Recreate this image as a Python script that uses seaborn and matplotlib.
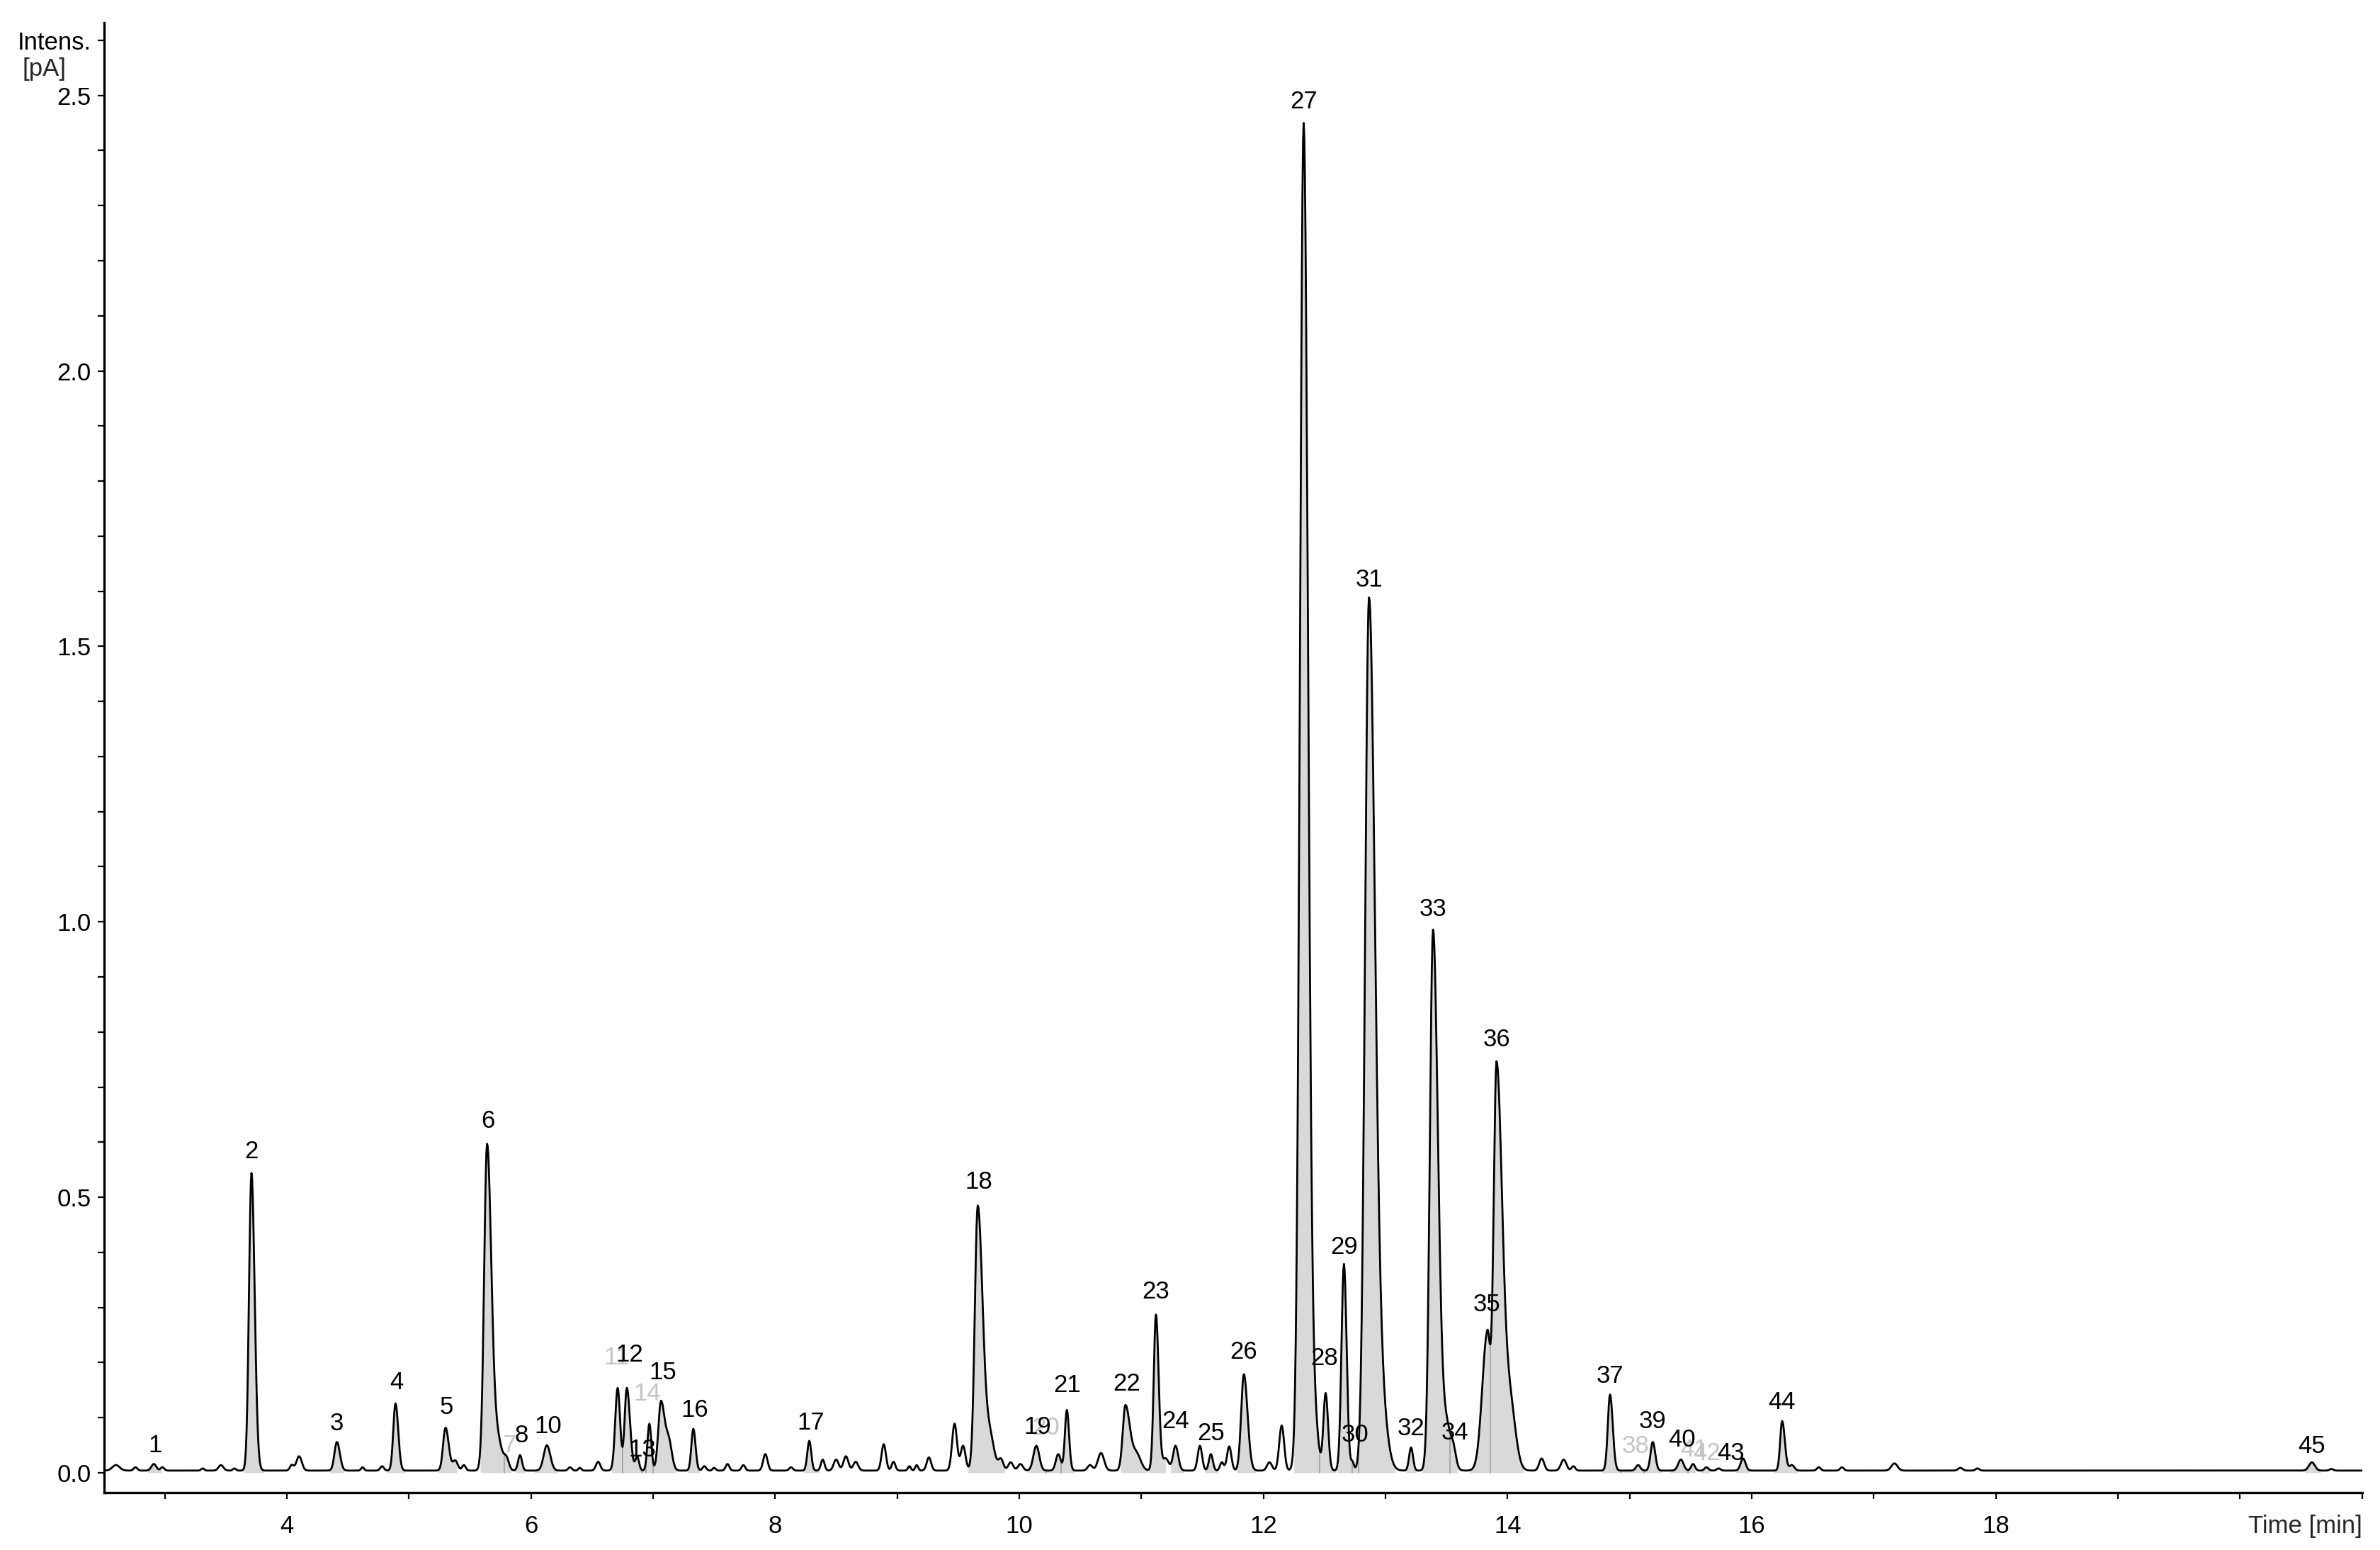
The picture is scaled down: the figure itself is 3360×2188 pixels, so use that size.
import numpy as np
import pandas as pd
import matplotlib
matplotlib.use("Agg")
import matplotlib.pyplot as plt
import matplotlib.transforms as mtransforms
import seaborn as sns

# ---------------- data ----------------
# labelled peaks: number, retention time [min], height above baseline [pA], left / right width (sigma, min)
peak_no = [1, 2, 3, 4, 5, 6, 7, 8, 10, 11, 12, 13, 14, 15, 16, 17, 18, 19, 20, 21,
           22, 23, 24, 25, 26, 27, 28, 29, 30, 31, 32, 33, 34, 35, 36, 37, 38, 39, 40,
           41, 42, 43, 44, 45]
peak_rt = [2.91, 3.71, 4.41, 4.89, 5.30, 5.64, 5.80, 5.91, 6.13, 6.71, 6.785, 6.87, 6.97, 7.065,
           7.33, 8.28, 9.66, 10.14, 10.32, 10.39, 10.87, 11.12, 11.28, 11.57, 11.84, 12.33,
           12.51, 12.66, 12.73, 12.865, 13.21, 13.39, 13.56, 13.835, 13.91, 14.84, 15.07,
           15.19, 15.42, 15.52, 15.63, 15.93, 16.25, 20.59]
peak_h = [0.012, 0.540, 0.052, 0.122, 0.078, 0.585, 0.018, 0.028, 0.046, 0.150, 0.150, 0.025,
          0.085, 0.125, 0.076, 0.054, 0.480, 0.045, 0.030, 0.110, 0.118, 0.283, 0.045, 0.030,
          0.175, 2.445, 0.140, 0.375, 0.015, 1.565, 0.042, 0.980, 0.022, 0.250, 0.735, 0.138,
          0.010, 0.052, 0.020, 0.012, 0.006, 0.022, 0.090, 0.015]
peak_sl = [0.020, 0.020, 0.020, 0.018, 0.020, 0.024, 0.020, 0.016, 0.026, 0.020, 0.018, 0.015,
           0.016, 0.022, 0.016, 0.016, 0.024, 0.024, 0.020, 0.016, 0.022, 0.018, 0.020, 0.016,
           0.022, 0.030, 0.018, 0.020, 0.012, 0.032, 0.016, 0.026, 0.020, 0.042, 0.024, 0.018,
           0.018, 0.018, 0.022, 0.016, 0.016, 0.020, 0.016, 0.024]
peak_sr = [0.020, 0.026, 0.024, 0.022, 0.026, 0.034, 0.020, 0.016, 0.028, 0.020, 0.026, 0.015,
           0.016, 0.030, 0.018, 0.016, 0.040, 0.024, 0.020, 0.018, 0.036, 0.022, 0.022, 0.016,
           0.030, 0.036, 0.020, 0.022, 0.012, 0.048, 0.016, 0.040, 0.020, 0.024, 0.046, 0.022,
           0.018, 0.020, 0.022, 0.016, 0.016, 0.020, 0.022, 0.024]

# unlabelled minor peaks / shoulders: retention time, height, width
minor_rt = [2.60, 2.76, 2.98, 3.31, 3.46, 3.57, 4.04, 4.10, 4.62, 4.78, 5.38, 5.45, 5.72,
            6.32, 6.40, 6.55, 7.13, 7.42, 7.50, 7.61, 7.74, 7.92, 8.13, 8.39, 8.50, 8.58,
            8.66, 8.89, 8.97, 9.10, 9.16, 9.26, 9.47, 9.54, 9.76, 9.85, 9.93, 10.01, 10.58,
            10.67, 10.96, 11.20, 11.48, 11.66, 11.72, 12.05, 12.15, 12.42, 12.96, 13.50,
            14.02, 14.28, 14.46, 14.54, 15.73, 16.33, 16.55, 16.74, 17.17, 17.71,
            17.85, 20.75]
minor_h = [0.010, 0.006, 0.006, 0.004, 0.010, 0.004, 0.010, 0.026, 0.006, 0.008, 0.018,
           0.010, 0.060, 0.006, 0.005, 0.016, 0.050, 0.008, 0.005, 0.012, 0.010, 0.030,
           0.006, 0.020, 0.020, 0.026, 0.016, 0.048, 0.016, 0.008, 0.010, 0.024, 0.085,
           0.045, 0.060, 0.020, 0.015, 0.012, 0.010, 0.032, 0.030, 0.022, 0.045, 0.015,
           0.044, 0.015, 0.082, 0.080, 0.120, 0.080, 0.120, 0.022, 0.020, 0.008,
           0.004, 0.010, 0.006, 0.006, 0.013, 0.005, 0.004, 0.003]
minor_s = [0.030, 0.015, 0.015, 0.012, 0.020, 0.012, 0.015, 0.022, 0.012, 0.015, 0.020,
           0.015, 0.040, 0.015, 0.012, 0.018, 0.025, 0.015, 0.012, 0.015, 0.015, 0.018,
           0.015, 0.015, 0.020, 0.020, 0.020, 0.018, 0.015, 0.012, 0.012, 0.018, 0.020,
           0.020, 0.035, 0.020, 0.020, 0.020, 0.020, 0.025, 0.035, 0.025, 0.018, 0.015,
           0.018, 0.020, 0.020, 0.030, 0.050, 0.040, 0.045, 0.020, 0.022, 0.015,
           0.015, 0.020, 0.015, 0.015, 0.025, 0.018, 0.015, 0.015]
baseline = 0.004

# integration windows (grey areas) for the labelled peaks
win_start = [2.86, 3.645, 4.35, 4.82, 5.24, 5.585, 5.78, 5.87, 6.03, 6.66, 6.75, 6.91, 6.94,
             7.00, 7.28, 8.23, 9.58, 10.07, 10.22, 10.34, 10.83, 11.06, 11.24, 11.52, 11.78,
             12.25, 12.46, 12.60, 12.73, 12.78, 13.17, 13.30, 13.53, 13.69, 13.86, 14.77,
             14.93, 15.12, 15.33, 15.48, 15.58, 15.87, 16.18, 20.53]
win_end = [2.97, 3.81, 4.47, 4.97, 5.39, 5.78, 5.84, 5.95, 6.22, 6.75, 6.91, 6.94, 7.00,
           7.19, 7.38, 8.36, 9.88, 10.22, 10.34, 10.45, 11.05, 11.20, 11.35, 11.63, 11.94,
           12.46, 12.59, 12.73, 12.78, 13.08, 13.25, 13.53, 13.59, 13.86, 14.13, 14.93,
           15.12, 15.27, 15.48, 15.54, 15.66, 15.98, 16.38, 20.66]

# peak label positions (time, intensity of label foot); some labels are greyed
label_t = [2.92, 3.71, 4.41, 4.90, 5.31, 5.65, 5.82, 5.92, 6.14, 6.70, 6.81, 6.91, 6.95,
           7.08, 7.34, 8.29, 9.67, 10.15, 10.22, 10.39, 10.88, 11.12, 11.28, 11.57, 11.84,
           12.33, 12.50, 12.66, 12.75, 12.87, 13.21, 13.39, 13.57, 13.83, 13.91, 14.84,
           15.05, 15.19, 15.43, 15.53, 15.63, 15.83, 16.25, 20.59]
label_y = [0.028, 0.562, 0.068, 0.143, 0.098, 0.617, 0.028, 0.046, 0.063, 0.188, 0.193,
           0.020, 0.122, 0.161, 0.093, 0.070, 0.507, 0.062, 0.060, 0.138, 0.140, 0.307,
           0.072, 0.050, 0.198, 2.468, 0.186, 0.388, 0.048, 1.600, 0.059, 1.002, 0.052,
           0.284, 0.765, 0.154, 0.027, 0.072, 0.038, 0.020, 0.014, 0.014, 0.107, 0.027]
grey_labels = [7, 11, 14, 20, 38, 41, 42]

x_major = [4, 6, 8, 10, 12, 14, 16, 18]
x_ticks = [3, 4, 5, 6, 7, 8, 9, 10, 11, 12, 13, 14, 15, 16, 17, 18, 19, 20, 21]
y_ticks = [round(0.1 * i, 1) for i in range(27)]
y_labelled = [0.0, 0.5, 1.0, 1.5, 2.0, 2.5]

# ---------------- build the trace ----------------
t = np.arange(2.5, 21.0001, 0.005)


def asym_gauss(x, mu, h, sl, sr):
    s = np.where(x < mu, sl, sr)
    return h * np.exp(-0.5 * ((x - mu) / s) ** 2)


signal = np.full_like(t, baseline)
for mu, h, sl, sr in zip(peak_rt, peak_h, peak_sl, peak_sr):
    signal += asym_gauss(t, mu, h, sl, sr)
for mu, h, s in zip(minor_rt, minor_h, minor_s):
    signal += asym_gauss(t, mu, h, s, s)

df = pd.DataFrame({"Time [min]": t, "Intens. [pA]": signal})

# ---------------- figure ----------------
sns.set_theme(style="ticks")
plt.rcParams["font.family"] = ["Liberation Sans", "DejaVu Sans"]

W, H, DPI = 3360, 2188, 200
fig = plt.figure(figsize=(W / DPI, H / DPI), dpi=DPI)
ax = fig.add_axes([146.5 / W, 1 - 2107 / H, (3334.5 - 146.5) / W, (2107 - 32) / H])

# grey integration areas
for a, b in zip(win_start, win_end):
    m = (t >= a - 1e-9) & (t <= b + 1e-9)
    ax.fill_between(t[m], 0, signal[m], color="#d9d9d9", lw=0, zorder=1)
# separators between adjacent windows
for a, b in zip(win_end[:-1], win_start[1:]):
    if abs(a - b) < 1e-6:
        yv = np.interp(a, t, signal)
        ax.plot([a, a], [0, yv], color="#a0a0a0", lw=0.6, zorder=1.5)

sns.lineplot(data=df, x="Time [min]", y="Intens. [pA]", ax=ax, color="black",
             lw=1.0, estimator=None, sort=False, zorder=3)

# peak labels
for n, lt, ly in zip(peak_no, label_t, label_y):
    col = "#c4c4c4" if n in grey_labels else "black"
    z = 2 if n in grey_labels else 4
    ax.text(lt, ly, str(n), ha="center", va="bottom", fontsize=12.5, color=col, zorder=z)

ax.set_xlim(2.5, 21.0)
ax.set_ylim(-0.036, 2.632)
ax.set_xlabel("")
ax.set_ylabel("")

ax.set_xticks(x_ticks)
ax.set_xticklabels([str(v) if v in x_major else "" for v in x_ticks])
ax.set_yticks(y_ticks)
ylabels = []
for v in y_ticks:
    if any(abs(v - u) < 1e-9 for u in y_labelled):
        ylabels.append(f"{v:.1f}")
    elif abs(v - 2.6) < 1e-9:
        ylabels.append("Intens.")
    else:
        ylabels.append("")
ax.set_yticklabels(ylabels)

tick_len, xpad = 3.3, 8
ax.tick_params(axis="both", direction="out", length=tick_len, width=0.8, color="black",
               labelsize=12.5, labelcolor="black", pad=3)
ax.tick_params(axis="x", pad=xpad)
for side in ["top", "right"]:
    ax.spines[side].set_visible(False)
for side in ["left", "bottom"]:
    ax.spines[side].set_linewidth(1.2)
    ax.spines[side].set_color("black")

fig.text(32 / W, 1 - 97 / H, "[pA]", ha="left", va="center", fontsize=12.5)
trans = mtransforms.offset_copy(ax.transAxes, fig=fig, x=0, y=-(tick_len + xpad),
                                units="points")
ax.text(1.0, 0.0, "Time [min]", transform=trans, ha="right", va="top", fontsize=12.5)

fig.savefig("out.png", dpi=DPI, facecolor="white")
